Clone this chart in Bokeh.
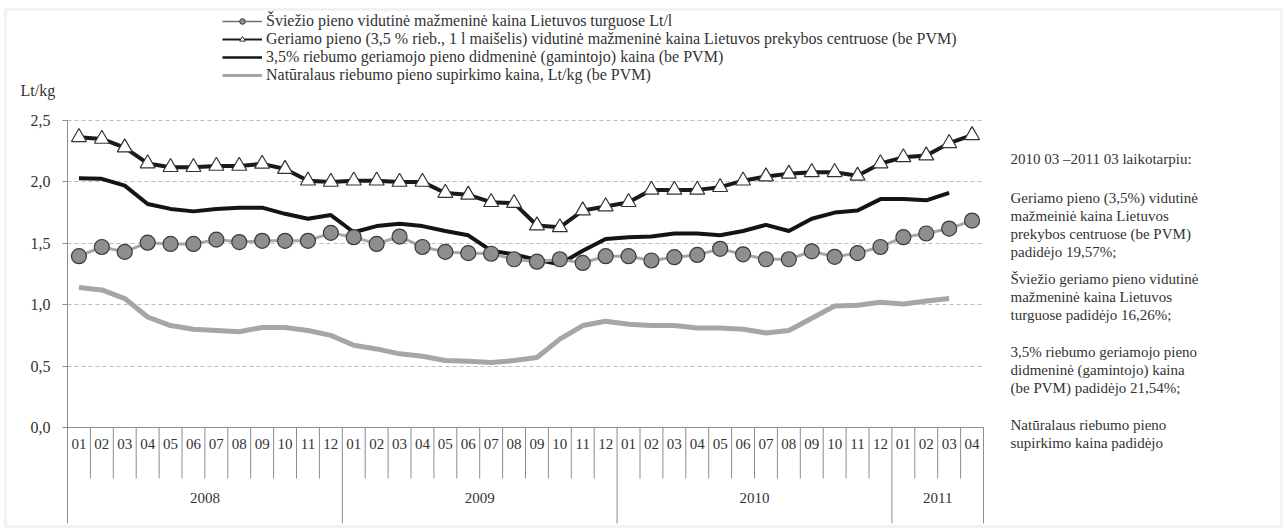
from bokeh.plotting import figure
from bokeh.models import (Range1d, FixedTicker, Label, Legend, LegendItem,
                          ColumnDataSource, CustomJSTickFormatter, BoxAnnotation)
from bokeh.embed import file_html
from bokeh.resources import INLINE
from bokeh.core.properties import value
import numpy as np

# ---------------- data ----------------
years = ["2008", "2009", "2010", "2011"]
year_months = [12, 12, 12, 4]
month_labels = ["01", "02", "03", "04", "05", "06", "07", "08", "09", "10", "11", "12"] * 3 + ["01", "02", "03", "04"]

# Šviežio pieno vidutinė mažmeninė kaina Lietuvos turguose (circles)
market_price = [1.395, 1.47, 1.43, 1.505, 1.495, 1.495, 1.53, 1.51, 1.52, 1.52, 1.52, 1.585,
                1.55, 1.495, 1.555, 1.47, 1.43, 1.42, 1.415, 1.37, 1.35, 1.37, 1.34, 1.395,
                1.395, 1.36, 1.387, 1.405, 1.455, 1.41, 1.37, 1.37, 1.435, 1.39, 1.42, 1.47,
                1.55, 1.58, 1.62, 1.685]
# Geriamo pieno vidutinė mažmeninė kaina prekybos centruose (triangles)
store_price = [2.364, 2.35, 2.28, 2.15, 2.12, 2.12, 2.13, 2.13, 2.147, 2.105, 2.01, 2.00,
               2.01, 2.01, 2.00, 2.00, 1.91, 1.895, 1.835, 1.827, 1.645, 1.63, 1.767, 1.80,
               1.835, 1.935, 1.935, 1.935, 1.957, 2.01, 2.044, 2.066, 2.079, 2.079, 2.05, 2.15,
               2.20, 2.215, 2.315, 2.38]
# didmeninė (gamintojo) kaina (black line)
wholesale_price = [2.03, 2.025, 1.97, 1.82, 1.78, 1.76, 1.78, 1.79, 1.79, 1.74, 1.70, 1.73,
                   1.59, 1.64, 1.66, 1.64, 1.60, 1.565, 1.44, 1.41, 1.365, 1.33, 1.44, 1.535,
                   1.55, 1.555, 1.58, 1.58, 1.565, 1.60, 1.65, 1.60, 1.70, 1.75, 1.767, 1.86,
                   1.86, 1.85, 1.91, np.nan]
# Natūralaus riebumo pieno supirkimo kaina (grey line)
purchase_price = [1.14, 1.12, 1.05, 0.90, 0.83, 0.80, 0.79, 0.78, 0.815, 0.815, 0.79, 0.75,
                  0.67, 0.64, 0.60, 0.58, 0.545, 0.54, 0.53, 0.545, 0.57, 0.72, 0.83, 0.865,
                  0.84, 0.83, 0.83, 0.81, 0.81, 0.80, 0.77, 0.79, 0.89, 0.99, 0.995, 1.02,
                  1.005, 1.03, 1.05, np.nan]

legend_labels = [
    "Šviežio pieno vidutinė mažmeninė kaina Lietuvos turguose Lt/l",
    "Geriamo pieno (3,5 % rieb., 1 l maišelis) vidutinė mažmeninė kaina Lietuvos prekybos centruose (be PVM)",
    "3,5% riebumo geriamojo pieno didmeninė (gamintojo) kaina (be PVM)",
    "Natūralaus riebumo pieno supirkimo kaina, Lt/kg (be PVM)",
]
note_lines = [
    "2010 03 –2011 03 laikotarpiu:",
    "Geriamo pieno (3,5%) vidutinė",
    "mažmeiniė kaina Lietuvos",
    "prekybos centruose (be PVM)",
    "padidėjo 19,57%;",
    " Šviežio geriamo pieno vidutinė",
    "mažmeninė kaina Lietuvos",
    "turguose padidėjo 16,26%;",
    "3,5% riebumo geriamojo pieno",
    "didmeninė (gamintojo) kaina",
    "(be PVM) padidėjo 21,54%;",
    "Natūralaus riebumo pieno",
    "supirkimo kaina  padidėjo",
]
note_rows_px = [158, 197, 215, 233, 251, 278, 296, 314, 351, 369, 387, 424, 442]

# ---------------- geometry (page pixels -> data) ----------------
W, H = 1283, 528
X0_PX, XSTEP = 67.0, 22.9      # left of month 0, width of a month
Y0_PX, YSTEP = 427.0, 122.8    # pixel of value 0, pixels per unit


def px_to_x(px):
    return (px - X0_PX) / XSTEP


def py_to_y(py):
    return (Y0_PX - py) / YSTEP


FONT = "Liberation Serif"
TXT = "#333333"
AX = "#8c8c8c"
YBOT = py_to_y(523)
n = len(month_labels)

p = figure(width=W, height=H, output_backend="svg", toolbar_location=None,
           x_range=Range1d(px_to_x(0), px_to_x(W)), y_range=Range1d(py_to_y(H), py_to_y(0)),
           x_axis_type=None,
           min_border_left=0, min_border_right=0, min_border_top=0, min_border_bottom=0)
p.outline_line_color = None
p.background_fill_color = "white"
p.border_fill_color = "white"

ticks = [0, 0.5, 1.0, 1.5, 2.0, 2.5]
yax = p.yaxis[0]
yax.fixed_location = 0
yax.bounds = (YBOT, 2.5)
yax.ticker = FixedTicker(ticks=ticks)
yax.formatter = CustomJSTickFormatter(code="return tick.toFixed(1).replace('.', ',');")
yax.major_label_text_font = FONT
yax.major_label_text_font_size = "16px"
yax.major_label_text_color = TXT
yax.axis_line_color = AX
yax.major_tick_line_color = AX
yax.major_tick_out = 5
yax.major_tick_in = 0
yax.minor_tick_line_color = None
yax.major_label_standoff = 12
p.xgrid.visible = False
p.ygrid.ticker = FixedTicker(ticks=ticks)
p.ygrid.cross_bounds = (0, n)
p.ygrid.grid_line_color = "#bdbdbd"
p.ygrid.grid_line_dash = "4 3"
p.ygrid.grid_line_width = 1

# chart-area border
p.add_layout(BoxAnnotation(left=px_to_x(5), right=px_to_x(1281), top=py_to_y(9), bottom=py_to_y(526),
                           fill_alpha=0, line_color="#d3d3d3", line_width=3))

# --- category axis drawn below zero ---
xc = [i + 0.5 for i in range(n)]
p.segment(x0=[0], y0=[0], x1=[n], y1=[0], line_color=AX, line_width=1)
year_edges = [0]
for m in year_months:
    year_edges.append(year_edges[-1] + m)
month_edges = [i for i in range(1, n) if i not in year_edges]
p.segment(x0=month_edges, y0=[0] * len(month_edges), x1=month_edges,
          y1=[py_to_y(478)] * len(month_edges), line_color=AX, line_width=1)
p.segment(x0=year_edges[1:], y0=[0] * (len(year_edges) - 1), x1=year_edges[1:],
          y1=[YBOT] * (len(year_edges) - 1), line_color=AX, line_width=1)
p.text(x=xc, y=[py_to_y(443)] * n, text=month_labels, text_font=value(FONT),
       text_font_size="15px", text_color=TXT, text_align="center", text_baseline="middle")
ycent = [(year_edges[i] + year_edges[i + 1]) / 2 for i in range(len(years))]
p.text(x=ycent, y=[py_to_y(497)] * len(years), text=years, text_font=value(FONT),
       text_font_size="15px", text_color=TXT, text_align="center", text_baseline="middle")

# --- series ---
src = ColumnDataSource(dict(x=xc, market=market_price, store=store_price,
                            wholesale=wholesale_price, purchase=purchase_price))
r_purch = p.line("x", "purchase", source=src, line_color="#a6a6a6", line_width=5)
r_whole = p.line("x", "wholesale", source=src, line_color="#141414", line_width=4)
r_mkt_l = p.line("x", "market", source=src, line_color="#a6a6a6", line_width=3)
r_mkt_m = p.scatter("x", "market", source=src, marker="circle", size=15,
                    fill_color="#8e8e8e", line_color="#3a3a3a", line_width=1.2)
r_sto_l = p.line("x", "store", source=src, line_color="#1a1a1a", line_width=4)
r_sto_m = p.scatter("x", "store", source=src, marker="triangle", size=15,
                    fill_color="white", line_color="#333333", line_width=1.2)

# thinner legend proxies (a single undrawable NaN point), as in the reference key
def proxy():
    return ColumnDataSource(dict(x=[np.nan], y=[np.nan]))

k1l = p.line(x="x", y="y", source=proxy(), line_color="#707070", line_width=1.5)
k1m = p.scatter(x="x", y="y", source=proxy(), marker="circle", size=9,
                fill_color="#8e8e8e", line_color="#3a3a3a", line_width=1)
k2l = p.line(x="x", y="y", source=proxy(), line_color="#1a1a1a", line_width=2)
k2m = p.scatter(x="x", y="y", source=proxy(), marker="triangle", size=9,
                fill_color="white", line_color="#333333", line_width=1)
k3l = p.line(x="x", y="y", source=proxy(), line_color="#141414", line_width=2.5)
k4l = p.line(x="x", y="y", source=proxy(), line_color="#a6a6a6", line_width=3)

legend = Legend(items=[
    LegendItem(label=legend_labels[0], renderers=[k1l, k1m]),
    LegendItem(label=legend_labels[1], renderers=[k2l, k2m]),
    LegendItem(label=legend_labels[2], renderers=[k3l]),
    LegendItem(label=legend_labels[3], renderers=[k4l]),
], location=(222, H - 84), orientation="vertical", glyph_width=40, glyph_height=14,
   label_height=14, spacing=-2, padding=0, margin=0, label_standoff=4,
   label_text_font=FONT, label_text_font_size="16px", label_text_color=TXT,
   border_line_alpha=0, background_fill_alpha=0)
p.add_layout(legend)

# --- text annotations ---
p.add_layout(Label(x=px_to_x(20), y=py_to_y(90), text="Lt/kg", text_font=FONT,
                   text_font_size="16px", text_color=TXT, text_baseline="middle"))
for t, py in zip(note_lines, note_rows_px):
    p.add_layout(Label(x=px_to_x(1010), y=py_to_y(py), text=t, text_font=FONT,
                       text_font_size="15px", text_color=TXT, text_baseline="middle"))

open("out.html", "w").write(file_html(p, INLINE))
